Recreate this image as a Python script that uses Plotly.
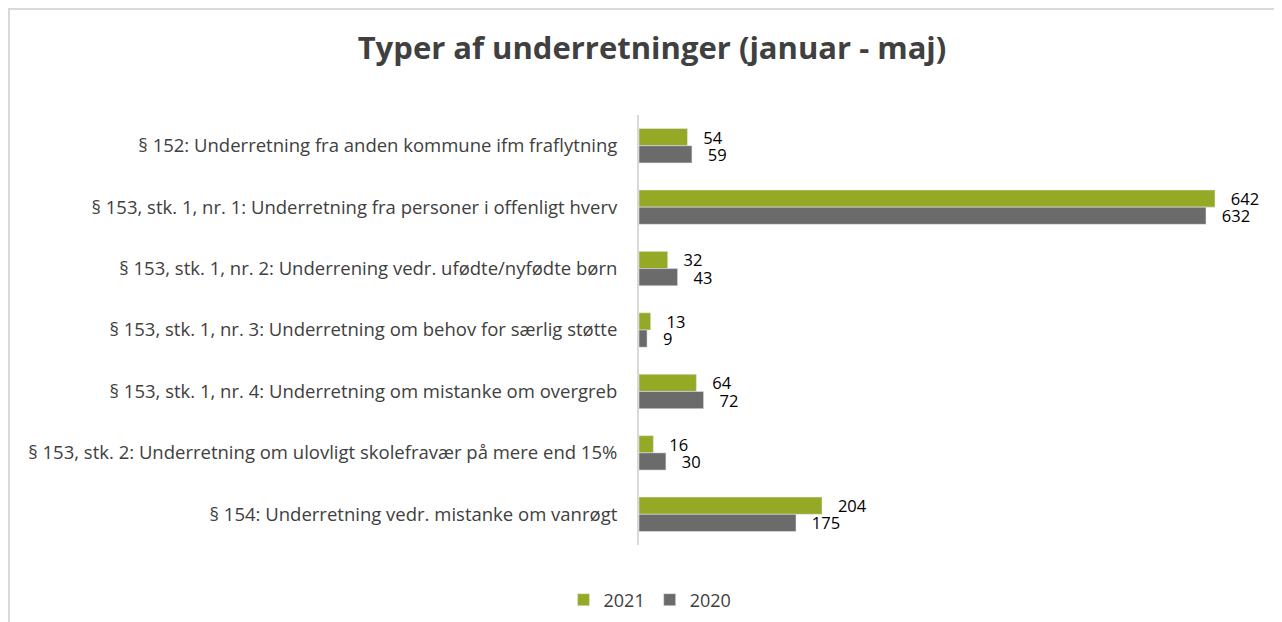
import plotly.graph_objects as go

# Data
categories = [
    "§ 152: Underretning fra anden kommune ifm fraflytning",
    "§ 153, stk. 1, nr. 1: Underretning fra personer i offenligt hverv",
    "§ 153, stk. 1, nr. 2: Underrening vedr. ufødte/nyfødte børn",
    "§ 153, stk. 1, nr. 3: Underretning om behov for særlig støtte",
    "§ 153, stk. 1, nr. 4: Underretning om mistanke om overgreb",
    "§ 153, stk. 2: Underretning om ulovligt skolefravær på mere end 15%",
    "§ 154: Underretning vedr. mistanke om vanrøgt",
]
values_2021 = [54, 642, 32, 13, 64, 16, 204]
values_2020 = [59, 632, 43, 9, 72, 30, 175]

# the page body adds an 8px offset, so figure pixels = screen pixels - 8
W, H = 1282, 622
ML, MR, MT, MB = 631, 23, 107, 85

label_font = dict(color="#000000", size=16.5, family="Open Sans")
# leading gap between bar end and its value label
pad = "\u00a0\u00a0\u00a0"

fig = go.Figure()
fig.add_trace(go.Bar(
    y=categories, x=values_2021, name="2021", orientation="h",
    marker_color="#95A926", texttemplate=pad + "%{x}", textposition="outside",
    textfont=label_font, cliponaxis=False, constraintext="none",
))
fig.add_trace(go.Bar(
    y=categories, x=values_2020, name="2020", orientation="h",
    marker_color="#6B6B6B", texttemplate=pad + "%{x}", textposition="outside",
    textfont=label_font, cliponaxis=False, constraintext="none",
))

# light gray frame around the chart (only top/left edges fall in view)
pw = W - ML - MR
ph = H - MT - MB
fig.add_shape(
    type="rect", xref="paper", yref="paper",
    x0=(1 - ML) / pw, x1=(W + 20 - ML) / pw,
    y0=(H - MB - (H + 20)) / ph, y1=(H - MB - 1) / ph,
    line=dict(color="#D9D9D9", width=2), fillcolor="rgba(0,0,0,0)",
    layer="below",
)

fig.update_layout(
    width=W, height=H,
    margin=dict(l=ML, r=MR, t=MT, b=MB),
    barmode="group", bargap=0.44, bargroupgap=0,
    plot_bgcolor="white", paper_bgcolor="white",
    font=dict(family="Open Sans", color="#404040", size=16),
    title=dict(text="<b>Typer af underretninger (januar - maj)</b>",
               xref="container", x=(652 - 8) / W, xanchor="center",
               yref="container", y=1 - (48 - 8) / H, yanchor="middle",
               font=dict(size=31, color="#404040")),
    legend=dict(orientation="h", xref="container", x=(650 - 8) / W, xanchor="center",
                yref="container", y=1 - (600 - 8) / H, yanchor="middle",
                font=dict(size=18, color="#404040"), traceorder="normal",
                itemwidth=30),
    showlegend=True,
)
fig.update_xaxes(range=[0, 700], visible=False, showgrid=False)
fig.update_yaxes(autorange="reversed", showline=True, linecolor="#D9D9D9", linewidth=2,
                 ticks="", ticklabelstandoff=16, showgrid=False,
                 tickfont=dict(size=18.5, color="#404040"))

fig.write_html("out.html")
